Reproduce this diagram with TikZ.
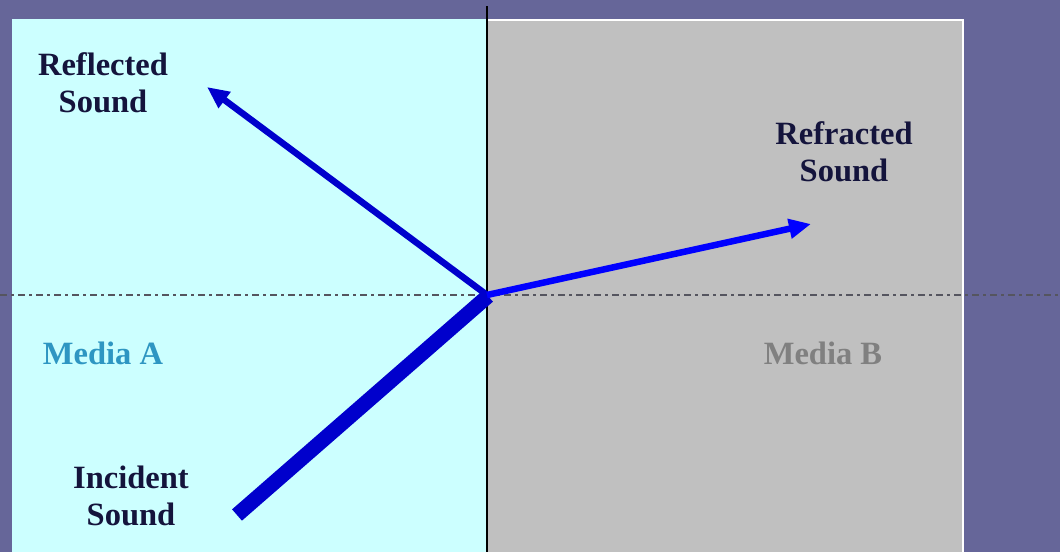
\documentclass[tikz,border=0pt]{standalone}
\usepackage{fontspec}
\setmainfont{Liberation Serif}
\usetikzlibrary{arrows.meta}
\definecolor{bgpurple}{HTML}{666699}
\definecolor{mediaA}{HTML}{CCFFFF}
\definecolor{mediaB}{HTML}{C0C0C0}
\definecolor{navytext}{HTML}{14143C}
\definecolor{tealtext}{HTML}{2E96C2}
\definecolor{graytext}{HTML}{808080}
\definecolor{raydark}{HTML}{0000CC}
\definecolor{raybright}{HTML}{0000FF}
\definecolor{axisgray}{HTML}{55555F}
\tikzset{
  lbl/.style={font=\fontsize{32.5}{37}\selectfont\bfseries, align=center, inner sep=0pt},
  ray/.style={line width=6.5pt, -{Triangle[length=22pt,width=19pt]}},
  axisline/.style={line width=1.8pt, color=axisgray, dash pattern=on 7pt off 4pt on 2.5pt off 4.5pt},
}
\begin{document}
\begin{tikzpicture}[x=1pt,y=-1pt]
\fill[bgpurple] (0,0) rectangle (1060,552);
\useasboundingbox (0,0) rectangle (1060,552);
\fill[mediaA] (12,19) rectangle (487,552);
\filldraw[fill=mediaB, draw=white, line width=1.5pt] (487,20) -- (963,20) -- (963,553);
\fill[mediaB] (487,21) rectangle (962,552);
% axes
\draw[axisline] (0,295) -- (1060,295);
\draw[line width=1.2pt, black] (487,6) -- (487,552);
% coordinates
\coordinate (o) at (487,295);
\coordinate (reftip) at (207,87);
\coordinate (fractip) at (811,224);
\coordinate (incstart) at (237,515);
% rays
\draw[line width=15pt, raydark, line cap=butt] (incstart) -- ([xshift=1pt,yshift=-1pt]o);
\draw[ray, raydark] (o) -- (reftip);
\draw[ray, raybright] (o) -- (fractip);
% labels
\node[lbl, navytext] (reflected) at (103,83) {Reflected\\Sound};
\node[lbl, navytext] (refracted) at (844,152) {Refracted\\Sound};
\node[lbl, tealtext] (mediaa) at (103,353) {Media A};
\node[lbl, graytext] (mediab) at (823,353) {Media B};
\node[lbl, navytext] (incident) at (131,496) {Incident\\Sound};
\end{tikzpicture}
\end{document}
